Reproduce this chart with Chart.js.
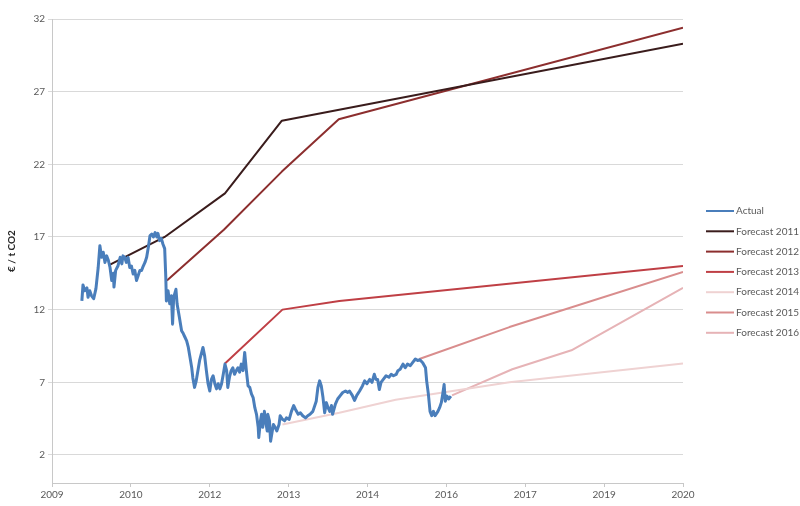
<!DOCTYPE html>
<html>
<head>
<meta charset="utf-8">
<script src="https://cdn.jsdelivr.net/npm/chart.js@4/dist/chart.umd.min.js"></script>
<style>
  html, body { margin: 0; padding: 0; background: #fff; }
  #wrap { width: 800px; height: 506px; }
</style>
</head>
<body>
<div id="wrap"><canvas id="co2Chart" width="800" height="506"></canvas></div>
<script>
// ─── Axis ticks ────────────────────────────────────
// Excel date axis: first tick at 2009.3, one tick every 1.4 years
const xTickStart = 2009.3;
const xTickStep = 1.4;
const xTickLabels = ['2009', '2010', '2012', '2013', '2014', '2016', '2017', '2019', '2020'];
const yTicks = [2, 7, 12, 17, 22, 27, 32];

// ─── Actual price (€/t CO2) ────────────────────────
const actualYears = [
  2009.83, 2009.85, 2009.88, 2009.92, 2009.94, 2009.97, 2010.00, 2010.04, 2010.08, 2010.12,
  2010.15, 2010.18, 2010.21, 2010.24, 2010.27, 2010.30, 2010.33, 2010.36, 2010.39, 2010.40,
  2010.43, 2010.47, 2010.51, 2010.54, 2010.56, 2010.59, 2010.62, 2010.65, 2010.68, 2010.71,
  2010.74, 2010.77, 2010.80, 2010.83, 2010.86, 2010.89, 2010.92, 2010.95, 2010.98, 2011.01,
  2011.04, 2011.07, 2011.10, 2011.13, 2011.16, 2011.18, 2011.21, 2011.24, 2011.27, 2011.30,
  2011.32, 2011.33, 2011.36, 2011.39, 2011.42, 2011.44, 2011.46, 2011.50, 2011.52, 2011.56,
  2011.60, 2011.63, 2011.66, 2011.69, 2011.72, 2011.75, 2011.78, 2011.80, 2011.83, 2011.86,
  2011.92, 2011.98, 2012.01, 2012.04, 2012.07, 2012.10, 2012.13, 2012.16, 2012.19, 2012.22,
  2012.25, 2012.28, 2012.31, 2012.34, 2012.37, 2012.40, 2012.42, 2012.45, 2012.48, 2012.51,
  2012.54, 2012.57, 2012.60, 2012.63, 2012.66, 2012.69, 2012.72, 2012.75, 2012.78, 2012.81,
  2012.84, 2012.87, 2012.90, 2012.93, 2012.96, 2012.97, 2013.00, 2013.02, 2013.04, 2013.07,
  2013.09, 2013.12, 2013.13, 2013.16, 2013.18, 2013.21, 2013.23, 2013.26, 2013.29, 2013.33,
  2013.35, 2013.39, 2013.43, 2013.46, 2013.51, 2013.55, 2013.59, 2013.62, 2013.67, 2013.71,
  2013.75, 2013.80, 2013.84, 2013.88, 2013.93, 2013.99, 2014.02, 2014.05, 2014.08, 2014.11,
  2014.14, 2014.17, 2014.20, 2014.23, 2014.26, 2014.28, 2014.33, 2014.37, 2014.42, 2014.46,
  2014.51, 2014.55, 2014.58, 2014.63, 2014.67, 2014.71, 2014.76, 2014.81, 2014.85, 2014.89,
  2014.94, 2014.98, 2015.02, 2015.05, 2015.08, 2015.11, 2015.14, 2015.18, 2015.23, 2015.28,
  2015.32, 2015.36, 2015.41, 2015.44, 2015.48, 2015.53, 2015.57, 2015.61, 2015.66, 2015.70,
  2015.75, 2015.79, 2015.83, 2015.88, 2015.93, 2015.95, 2015.98, 2016.01, 2016.04, 2016.07,
  2016.10, 2016.15, 2016.18, 2016.21, 2016.23, 2016.26, 2016.28, 2016.31, 2016.34, 2016.38
];
const actualValues = [
  12.6, 13.7, 13.3, 13.5, 12.85, 13.3, 12.97, 12.75, 13.45, 14.9,
  16.4, 15.6, 15.95, 15.25, 15.7, 15.4, 14.9, 14.0, 14.5, 13.55,
  14.7, 15.0, 15.6, 15.15, 15.7, 15.6, 15.25, 15.6, 14.9, 15.0,
  14.45, 14.7, 14.0, 14.35, 14.7, 14.7, 15.0, 15.25, 15.6, 16.3,
  17.1, 17.2, 17.0, 17.3, 17.0, 17.25, 16.75, 16.9, 16.5, 16.2,
  14.2, 12.6, 13.3, 12.4, 12.95, 11.0, 12.85, 13.4, 12.4, 11.5,
  10.55, 10.35, 10.1, 9.85, 9.4, 8.7, 8.0, 7.3, 6.65, 7.1,
  8.5, 9.4, 8.8, 7.8, 6.9, 6.4, 7.2, 7.45, 6.9, 6.55,
  6.9, 6.55, 6.9, 7.55, 8.25, 7.8, 6.65, 7.35, 7.8, 8.0,
  7.55, 7.8, 8.0, 7.7, 8.25, 7.8, 9.05, 7.8, 6.75, 6.65,
  6.2, 5.95, 5.25, 4.8, 3.9, 3.2, 4.35, 4.8, 3.9, 5.0,
  4.35, 3.65, 4.8, 4.35, 2.95, 3.65, 4.1, 3.9, 3.65, 4.1,
  4.7, 4.45, 4.35, 4.55, 4.45, 5.0, 5.4, 5.15, 4.8, 4.9,
  4.7, 4.55, 4.7, 4.8, 5.0, 5.7, 6.65, 7.1, 6.75, 5.95,
  4.9, 5.6, 5.25, 5.0, 5.4, 4.8, 5.5, 5.85, 6.1, 6.3,
  6.4, 6.3, 6.4, 6.1, 5.75, 6.1, 6.4, 6.75, 7.1, 6.9,
  7.2, 7.0, 7.55, 7.2, 7.2, 6.5, 7.0, 7.2, 7.45, 7.35,
  7.55, 7.45, 7.55, 7.8, 7.9, 8.25, 8.0, 8.25, 8.15, 8.35,
  8.6, 8.5, 8.55, 8.35, 8.0, 7.1, 6.2, 5.0, 4.7, 5.0,
  4.7, 5.0, 5.25, 5.6, 6.05, 6.85, 5.7, 6.05, 5.85, 6.05
];

// ─── Forecasts ─────────────────────────────────────
const f2011Years = [2010.33, 2011.30, 2012.37, 2013.38, 2020.5];
const f2011Values = [15.1, 17.0, 20.0, 25.0, 30.3];
const f2012Years = [2011.34, 2012.35, 2013.38, 2014.39, 2020.5];
const f2012Values = [14.0, 17.5, 21.5, 25.1, 31.4];
const f2013Years = [2012.37, 2013.39, 2014.40, 2020.5];
const f2013Values = [8.3, 12.0, 12.6, 15.0];
const f2014Years = [2013.39, 2014.40, 2015.40, 2016.41, 2017.42, 2020.5];
const f2014Values = [4.1, 4.9, 5.8, 6.4, 7.0, 8.3];
const f2015Years = [2015.82, 2017.42, 2020.5];
const f2015Values = [8.6, 10.8, 14.6];
const f2016Years = [2016.40, 2017.47, 2018.52, 2020.5];
const f2016Values = [6.1, 7.9, 9.2, 13.5];

const FONT = 'Lato';
const TEXT = '#595959';

const pts = (xs, ys) => xs.map((x, i) => ({ x, y: ys[i] }));

const series = [
  { label: 'Actual', data: pts(actualYears, actualValues), color: '#4a7ebb', width: 3 },
  { label: 'Forecast 2011', data: pts(f2011Years, f2011Values), color: '#3a1c1c', width: 2 },
  { label: 'Forecast 2012', data: pts(f2012Years, f2012Values), color: '#8c2e2e', width: 2 },
  { label: 'Forecast 2013', data: pts(f2013Years, f2013Values), color: '#bf3f45', width: 2 },
  { label: 'Forecast 2014', data: pts(f2014Years, f2014Values), color: '#efd2d2', width: 2 },
  { label: 'Forecast 2015', data: pts(f2015Years, f2015Values), color: '#d98d8d', width: 2 },
  { label: 'Forecast 2016', data: pts(f2016Years, f2016Values), color: '#e6b3b6', width: 2 },
];

// ─── Legend drawn on the right like Excel ──────────
const sideLegend = {
  id: 'sideLegend',
  afterDraw(chart) {
    const ctx = chart.ctx;
    ctx.save();
    ctx.font = `10px ${FONT}`;
    ctx.textBaseline = 'middle';
    ctx.fillStyle = TEXT;
    chart.data.datasets.forEach((ds, i) => {
      const y = 211 + i * 20.3;
      ctx.strokeStyle = ds.borderColor;
      ctx.lineWidth = 2;
      ctx.beginPath();
      ctx.moveTo(706, y);
      ctx.lineTo(734, y);
      ctx.stroke();
      ctx.fillText(ds.label, 736, y);
    });
    ctx.restore();
  },
};

new Chart(document.getElementById('co2Chart'), {
  type: 'line',
  data: {
    datasets: series.map(s => ({
      label: s.label,
      data: s.data,
      borderColor: s.color,
      backgroundColor: s.color,
      borderWidth: s.width,
      borderJoinStyle: 'round',
      pointRadius: 0,
      tension: 0,
      fill: false,
    })),
  },
  options: {
    responsive: false,
    animation: false,
    layout: { padding: { left: 0, top: 19, right: 117, bottom: 0 } },
    plugins: {
      legend: { display: false },
      tooltip: { enabled: false },
    },
    scales: {
      x: {
        type: 'linear',
        min: xTickStart,
        max: xTickStart + xTickStep * (xTickLabels.length - 1),
        afterBuildTicks: scale => {
          scale.ticks = xTickLabels.map((_, i) => ({ value: xTickStart + i * xTickStep }));
        },
        afterFit: scale => { scale.height = 23; },
        border: { color: '#c8c8c8' },
        grid: { drawOnChartArea: false, tickLength: 4, color: '#c8c8c8' },
        ticks: {
          color: TEXT,
          font: { family: FONT, size: 10 },
          padding: 2,
          maxRotation: 0,
          autoSkip: false,
          callback: (v, i) => xTickLabels[i],
        },
      },
      y: {
        min: 0.07,
        max: 32,
        afterBuildTicks: scale => {
          scale.ticks = yTicks.map(v => ({ value: v }));
        },
        afterFit: scale => { scale.width = 52; },
        border: { color: '#c8c8c8' },
        grid: { color: '#d9d9d9', tickLength: 4 },
        ticks: {
          color: TEXT,
          font: { family: FONT, size: 10 },
          padding: 3,
        },
        title: {
          display: true,
          text: '€ / t CO2',
          color: '#262626',
          font: { family: FONT, size: 10, weight: 'bold' },
          padding: { top: 6, bottom: 0 },
        },
      },
    },
  },
  plugins: [sideLegend],
});
</script>
</body>
</html>
